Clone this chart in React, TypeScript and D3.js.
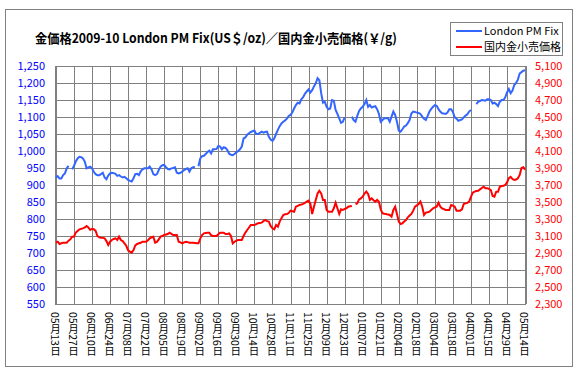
import React from "react";
import * as d3 from "d3";

const TITLE = "金価格2009-10 London PM Fix(US＄/oz)／国内金小売価格(￥/g)";
const SERIES_NAMES = ["London PM Fix", "国内金小売価格"];

const X_TICK_LABELS = [
  "05月13日", "05月27日", "06月10日", "06月24日", "07月08日", "07月22日", "08月05日",
  "08月19日", "09月02日", "09月16日", "09月30日", "10月14日", "10月28日", "11月11日",
  "11月25日", "12月09日", "12月23日", "01月07日", "01月21日", "02月04日", "02月18日",
  "03月04日", "03月18日", "04月01日", "04月15日", "04月29日", "05月14日",
];
const TICK_EVERY = 10;
const N_POINTS = 261;

const LEFT_TICKS = [550, 600, 650, 700, 750, 800, 850, 900, 950, 1000, 1050, 1100, 1150, 1200, 1250];
const RIGHT_TICKS = [2300, 2500, 2700, 2900, 3100, 3300, 3500, 3700, 3900, 4100, 4300, 4500, 4700, 4900, 5100];

const N = null;
// London PM Fix (US$/oz), one value per trading day (null = no fix)
const LONDON: (number | null)[] = [
  922, 926, 919, 919, 929, 934, 949, 956, N, 946,
  956, 969, 978, 983, 982, 978, 969, 949, 952, 954,
  949, 939, 932, 929, 929, 932, 936, 922, 917, 928,
  934, 936, 935, 933, 927, 929, 925, 922, 924, 920,
  915, 912, 910, 920, 932, 933, 929, 940, 946, 949,
  949, 949, 954, 946, 932, 929, 932, 944, 954, 958,
  959, 952, 947, 946, 949, 950, 952, 936, 934, 936,
  939, 944, 947, 949, 939, 949, 952, 953, N, 955,
  978, 985, 986, 991, 997, 1001, 993, 1005, 1005, 1006,
  1015, 1013, 1005, 1011, 1009, 1003, 992, 989, 988, 991,
  996, 1000, 1005, 1013, 1037, 1040, 1048, 1052, 1056, 1058,
  1060, 1050, 1050, 1053, 1057, 1054, 1056, 1057, 1042, 1034,
  1030, 1037, 1050, 1062, 1073, 1081, 1086, 1090, 1095, 1103,
  1106, 1113, 1125, 1135, 1142, 1140, 1152, 1158, 1168, 1175,
  1181, 1172, 1179, 1190, 1199, 1214, 1208, 1170, 1142, 1145,
  1130, 1123, 1125, 1150, 1148, 1121, 1109, 1096, 1083, 1086,
  1099, N, N, N, 1101, 1091, 1086, 1103, 1118, 1125,
  1130, 1138, 1150, 1130, 1135, 1128, 1130, 1132, 1123, 1109,
  1086, 1091, 1096, 1096, 1096, 1086, 1101, 1116, 1106, 1086,
  1060, 1057, 1064, 1072, 1075, 1082, 1091, 1110, 1116, 1115,
  1113, 1112, 1109, 1101, 1095, 1091, 1103, 1116, 1124, 1130,
  1135, 1133, 1123, 1116, 1111, 1110, 1109, 1113, 1123, 1123,
  1115, 1099, 1095, 1089, 1091, 1093, 1099, 1104, 1108, 1116,
  1121, N, N, 1138, 1145, 1147, 1150, 1149, 1148, 1152,
  1152, 1150, 1140, 1142, 1138, 1132, 1145, 1150, 1150, 1158,
  1172, 1182, 1170, 1178, 1194, 1200, 1210, 1228, 1232, 1236,
  1238,
];

// 国内金小売価格 (円/g)
const RETAIL: (number | null)[] = [
  3022, 3033, 3006, 3014, 3022, 3022, 3022, 3045, 3060, 3092,
  3092, 3140, 3160, 3178, 3184, 3190, 3200, 3218, 3202, 3171,
  3185, 3180, 3160, 3100, 3084, 3080, 3078, 3073, 3040, 2994,
  3033, 3053, 3065, 3073, 3053, 3092, 3053, 3040, 3014, 2985,
  2930, 2916, 2904, 2935, 2990, 3006, 3014, 3020, 3033, 3033,
  3033, 3050, 3073, 3085, 3092, 3022, 3030, 3060, 3092, 3100,
  3112, 3118, 3124, 3139, 3125, 3112, 3112, 3112, 3033, 3025,
  3014, 3025, 3033, 3028, 3022, 3022, 3022, 3018, 3014, 3014,
  3070, 3110, 3131, 3135, 3139, 3139, 3110, 3100, 3100, 3100,
  3120, 3139, 3139, 3139, 3124, 3124, 3131, 3100, 3014, 3033,
  3045, 3053, 3053, 3053, 3100, 3140, 3171, 3200, 3229, 3229,
  3229, 3240, 3249, 3253, 3257, 3275, 3288, 3275, 3269, 3218,
  3190, 3178, 3229, 3210, 3269, 3310, 3347, 3355, 3359, 3370,
  3398, 3392, 3386, 3445, 3455, 3465, 3470, 3477, 3490, 3504,
  3516, 3480, 3359, 3445, 3524, 3600, 3633, 3602, 3524, 3524,
  3406, 3386, 3386, 3386, 3426, 3492, 3426, 3359, 3414, 3406,
  3420, 3426, 3445, 3450, 3453, N, 3477, 3484, 3530, 3543,
  3563, 3600, 3622, 3594, 3524, 3543, 3520, 3504, 3524, 3504,
  3414, 3367, 3362, 3359, 3352, 3347, 3327, 3406, 3445, 3359,
  3269, 3241, 3249, 3270, 3288, 3320, 3340, 3359, 3398, 3445,
  3460, 3477, 3504, 3445, 3347, 3375, 3380, 3386, 3406, 3426,
  3436, 3445, 3492, 3445, 3426, 3416, 3406, 3406, 3406, 3465,
  3457, 3445, 3398, 3398, 3398, 3414, 3477, 3484, 3490, 3504,
  3560, 3610, 3622, 3630, 3633, 3649, 3665, 3680, 3661, 3661,
  3655, 3641, 3571, 3563, 3622, 3622, 3680, 3688, 3690, 3700,
  3730, 3780, 3795, 3770, 3760, 3765, 3780, 3818, 3900, 3910,
  3880,
];

const W = 582;
const H = 370;
const PLOT = { left: 55, right: 526, top: 66, bottom: 304 };
const BLUE = "#3366FF";
const RED = "#FF0000";
const GRID = "#808080";
const FONT = "'Noto Sans CJK JP', 'DejaVu Sans', sans-serif";

export default function App() {
  const step = (PLOT.right - PLOT.left) / N_POINTS;
  const x = (i: number) => PLOT.left + (i + 0.5) * step;
  const yL = d3.scaleLinear().domain([550, 1250]).range([PLOT.bottom, PLOT.top]);
  const yR = d3.scaleLinear().domain([2300, 5100]).range([PLOT.bottom, PLOT.top]);

  const lineL = d3
    .line<number | null>()
    .defined((d) => d != null)
    .x((_, i) => x(i))
    .y((d) => yL(d as number));
  const lineR = d3
    .line<number | null>()
    .defined((d) => d != null)
    .x((_, i) => x(i))
    .y((d) => yR(d as number));

  const tickIdx = X_TICK_LABELS.map((_, k) => k * TICK_EVERY);

  return (
    <svg
      width={W}
      height={H}
      style={{ position: "absolute", left: 0, top: 0, background: "#fff" }}
      fontFamily={FONT}
    >
      <rect x={5.5} y={9.5} width={567} height={357} fill="#fff" stroke={GRID} strokeWidth={1} />
      <text
        x={35}
        y={43}
        fontSize={13}
        fontWeight="bold"
        fill="#000"
        textLength={362}
        lengthAdjust="spacingAndGlyphs"
      >
        {TITLE}
      </text>

      {/* horizontal gridlines */}
      {LEFT_TICKS.map((t) => (
        <line
          key={"h" + t}
          x1={PLOT.left}
          x2={PLOT.right}
          y1={Math.round(yL(t)) + 0.5}
          y2={Math.round(yL(t)) + 0.5}
          stroke={GRID}
          strokeWidth={1}
        />
      ))}
      {/* vertical gridlines */}
      {tickIdx.map((i) => (
        <line
          key={"v" + i}
          x1={Math.round(x(i)) + 0.5}
          x2={Math.round(x(i)) + 0.5}
          y1={PLOT.top}
          y2={PLOT.bottom}
          stroke={GRID}
          strokeWidth={1}
        />
      ))}
      <line x1={PLOT.left + 0.5} x2={PLOT.left + 0.5} y1={PLOT.top} y2={PLOT.bottom} stroke={GRID} />
      <line x1={PLOT.right + 0.5} x2={PLOT.right + 0.5} y1={PLOT.top} y2={PLOT.bottom} stroke={GRID} />

      {/* left axis labels */}
      {LEFT_TICKS.map((t) => (
        <text
          key={"l" + t}
          x={45}
          y={yL(t)}
          dy="0.35em"
          textAnchor="end"
          fontSize={11}
          fill="#0000FF"
        >
          {d3.format(",")(t)}
        </text>
      ))}
      {/* right axis labels */}
      {RIGHT_TICKS.map((t) => (
        <text key={"r" + t} x={535} y={yR(t)} dy="0.35em" fontSize={11} fill={RED}>
          {d3.format(",")(t)}
        </text>
      ))}
      {/* x axis labels */}
      {tickIdx.map((i, k) => (
        <text
          key={"x" + i}
          x={x(i) - 0.5}
          y={312}
          fontSize={10.5}
          fill="#000"
          style={{ writingMode: "vertical-rl" }}
        >
          {X_TICK_LABELS[k]}
        </text>
      ))}

      <path d={lineL(LONDON) || ""} fill="none" stroke={BLUE} strokeWidth={2} />
      <path d={lineR(RETAIL) || ""} fill="none" stroke={RED} strokeWidth={2} />

      {/* legend */}
      <rect x={450.5} y={22.5} width={112} height={33} fill="#fff" stroke={GRID} />
      <line x1={456} x2={482} y1={31} y2={31} stroke={BLUE} strokeWidth={2} />
      <line x1={456} x2={482} y1={47} y2={47} stroke={RED} strokeWidth={2} />
      <text x={484} y={31} dy="0.35em" fontSize={11} fill="#000">
        {SERIES_NAMES[0]}
      </text>
      <text x={484} y={47} dy="0.35em" fontSize={11} fill="#000">
        {SERIES_NAMES[1]}
      </text>
    </svg>
  );
}
